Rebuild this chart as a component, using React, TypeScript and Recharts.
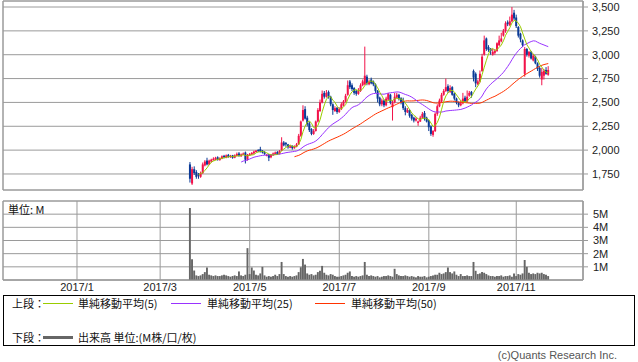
import { ComposedChart, Bar, Line, XAxis, YAxis, CartesianGrid, ReferenceArea } from "recharts";

// x axis is counted in trading days, Jan 4 2017 = 0
const firstDay = 53;
const dayDomain = [-34.7, 237.3];
const monthStarts = [0, 39, 81, 123, 165, 206];
const monthLabels = ["2017/1", "2017/3", "2017/5", "2017/7", "2017/9", "2017/11"];

const priceTicks = [1750, 2000, 2250, 2500, 2750, 3000, 3250, 3500];
const priceDomain = [1582, 3563];
const volumeTicks = [1, 2, 3, 4, 5];
const volumeDomain = [0, 6];

const opens = [
  1850, 1650, 1800, 1770, 1745, 1720, 1760, 1840, 1890, 1850,
  1880, 1895, 1900, 1925, 1895, 1910, 1940, 1920, 1950, 1925,
  1945, 1920, 1940, 1965, 1935, 1950, 1975, 1900, 1945, 1955,
  1965, 1980, 2000, 2010, 1995, 1980, 1940, 1955, 1925, 1945,
  1960, 1980, 1960, 1995, 2080, 2075, 2060, 2025, 2045, 2020,
  2035, 2060, 2150, 2310, 2430, 2340, 2280, 2220, 2170, 2200,
  2300, 2410, 2500, 2600, 2560, 2610, 2560, 2480, 2410, 2445,
  2400, 2430, 2470, 2510, 2580, 2720, 2680, 2650, 2620, 2590,
  2620, 2680, 2690, 2770, 2690, 2740, 2720, 2690, 2620, 2550,
  2480, 2520, 2470, 2530, 2580, 2450, 2500, 2550, 2580, 2545,
  2520, 2440, 2395, 2420, 2370, 2340, 2310, 2285, 2300, 2340,
  2390, 2340, 2310, 2250, 2160, 2200, 2380, 2460, 2510, 2580,
  2620, 2670, 2610, 2660, 2590, 2540, 2500, 2470, 2490, 2550,
  2510, 2570, 2610, 2830, 2800, 2690, 2720, 2830, 3000, 3170,
  3080, 3060, 3000, 3020, 3040, 3100, 3140, 3200, 3250, 3340,
  3310, 3350, 3440, 3390, 3290, 3220, 3150, 2800, 3060, 2990,
  3030, 2940, 2980, 2910, 2860, 2740, 2780, 2840, 2790,
];

const highs = [
  1875, 1825, 1830, 1790, 1760, 1775, 1870, 1895, 1920, 1900,
  1910, 1925, 1930, 1935, 1925, 1945, 1950, 1955, 1960, 1950,
  1950, 1955, 1975, 1980, 1965, 1975, 1985, 1960, 1970, 1980,
  1995, 2000, 2010, 2035, 2000, 1990, 1960, 1960, 1960, 1975,
  1985, 1990, 2000, 2135, 2095, 2085, 2065, 2055, 2050, 2050,
  2075, 2170, 2310, 2470, 2460, 2360, 2300, 2230, 2220, 2310,
  2440, 2530, 2625, 2620, 2630, 2625, 2570, 2490, 2460, 2450,
  2450, 2500, 2525, 2590, 2730, 2735, 2700, 2660, 2630, 2650,
  2700, 2740, 3085, 2790, 2740, 2760, 2730, 2700, 2630, 2560,
  2540, 2530, 2560, 2600, 2590, 2520, 2600, 2600, 2590, 2555,
  2550, 2460, 2440, 2430, 2380, 2350, 2345, 2310, 2360, 2400,
  2410, 2350, 2320, 2260, 2210, 2395, 2480, 2540, 2600, 2640,
  2750, 2690, 2680, 2670, 2600, 2550, 2510, 2520, 2600, 2570,
  2625, 2620, 2620, 2845, 2815, 2740, 2835, 3010, 3200, 3180,
  3100, 3070, 3060, 3060, 3130, 3200, 3230, 3270, 3350, 3360,
  3400, 3500, 3470, 3420, 3300, 3230, 3160, 3080, 3070, 3040,
  3040, 3010, 2990, 2920, 2880, 2860, 2850, 2870, 2880,
];

const lows = [
  1660, 1635, 1740, 1700, 1700, 1710, 1750, 1830, 1840, 1845,
  1870, 1890, 1895, 1890, 1890, 1905, 1915, 1915, 1920, 1920,
  1910, 1915, 1935, 1930, 1930, 1945, 1860, 1890, 1940, 1950,
  1960, 1975, 1980, 1975, 1965, 1950, 1935, 1885, 1915, 1940,
  1955, 1950, 1955, 1990, 2040, 2035, 2015, 2020, 2005, 2015,
  2030, 2055, 2140, 2300, 2320, 2250, 2190, 2156, 2160, 2195,
  2290, 2400, 2490, 2540, 2550, 2540, 2460, 2370, 2400, 2380,
  2390, 2420, 2460, 2500, 2570, 2640, 2620, 2580, 2570, 2580,
  2610, 2670, 2680, 2680, 2680, 2690, 2670, 2600, 2500, 2460,
  2460, 2450, 2460, 2520, 2480, 2310, 2490, 2540, 2520, 2480,
  2420, 2365, 2390, 2340, 2310, 2290, 2300, 2255, 2295, 2330,
  2310, 2290, 2200, 2150, 2140, 2190, 2360, 2450, 2500, 2570,
  2610, 2600, 2600, 2570, 2520, 2480, 2450, 2460, 2480, 2500,
  2500, 2560, 2550, 2720, 2660, 2680, 2710, 2820, 2990, 3040,
  3030, 3000, 2990, 3000, 3030, 3090, 3130, 3190, 3230, 3300,
  3300, 3340, 3360, 3280, 3180, 3130, 3080, 2770, 2980, 2970,
  2950, 2930, 2900, 2830, 2760, 2680, 2740, 2790, 2780,
];

const closes = [
  1700, 1800, 1760, 1720, 1730, 1760, 1850, 1880, 1850, 1890,
  1900, 1910, 1920, 1900, 1915, 1935, 1925, 1945, 1930, 1940,
  1920, 1945, 1960, 1940, 1955, 1965, 1900, 1950, 1960, 1970,
  1985, 1995, 1990, 1985, 1975, 1960, 1950, 1920, 1950, 1965,
  1975, 1960, 1990, 2080, 2050, 2060, 2030, 2040, 2020, 2035,
  2060, 2150, 2300, 2420, 2330, 2270, 2210, 2170, 2200, 2300,
  2420, 2500, 2590, 2560, 2600, 2560, 2480, 2420, 2440, 2400,
  2430, 2480, 2510, 2570, 2680, 2660, 2640, 2600, 2590, 2620,
  2680, 2720, 2780, 2700, 2720, 2700, 2690, 2620, 2540, 2480,
  2520, 2470, 2540, 2590, 2500, 2500, 2560, 2580, 2540, 2500,
  2440, 2400, 2420, 2360, 2330, 2310, 2330, 2300, 2340, 2380,
  2330, 2300, 2240, 2170, 2200, 2380, 2460, 2520, 2580, 2620,
  2660, 2620, 2650, 2580, 2540, 2500, 2470, 2490, 2540, 2510,
  2560, 2600, 2580, 2760, 2700, 2720, 2800, 2980, 3150, 3060,
  3050, 3040, 3030, 3040, 3120, 3150, 3170, 3250, 3330, 3320,
  3350, 3420, 3380, 3300, 3200, 3160, 3100, 3060, 3000, 3030,
  2960, 2990, 2910, 2850, 2780, 2820, 2830, 2800, 2840,
];

// volume in millions of shares
const volumes = [
  5.47, 1.57, 0.72, 0.35, 0.3, 0.35, 0.45, 0.6, 0.95, 0.4,
  0.35, 0.3, 0.35, 0.3, 0.3, 0.35, 0.4, 0.35, 0.3, 0.25,
  0.3, 0.35, 0.3, 0.65, 0.35, 0.3, 0.4, 2.42, 0.45, 0.95,
  0.72, 0.4, 0.35, 0.5, 1.0, 0.35, 0.25, 0.3, 0.25, 0.3,
  0.4, 0.3, 0.45, 1.37, 0.45, 0.3, 0.25, 0.3, 0.25, 0.3,
  0.35, 0.6, 0.97, 1.6, 1.17, 0.5, 0.4, 0.45, 0.35, 0.4,
  0.6, 0.7, 1.07, 0.55, 0.4, 0.35, 0.45, 0.4, 0.3, 0.25,
  0.25, 0.3, 0.35, 0.4, 0.55, 0.65, 0.3, 0.25, 0.3, 0.25,
  0.3, 0.35, 1.37, 0.4, 0.3, 0.35, 0.3, 0.25, 0.3, 0.2,
  0.25, 0.3, 0.3, 0.35, 0.3, 0.25, 0.85, 0.45, 0.35, 0.3,
  0.3, 0.35, 0.3, 0.25, 0.3, 0.25, 0.2, 0.3, 0.25, 0.25,
  0.3, 0.2, 0.25, 0.3, 0.35, 0.4, 0.4, 0.55, 0.45, 0.5,
  0.6, 0.95, 0.6, 0.5, 0.65, 0.4, 0.3, 0.45, 0.3, 0.3,
  0.35, 0.3, 0.3, 1.37, 0.7, 0.45, 0.5, 0.6, 0.55, 0.45,
  0.35, 0.3, 0.3, 0.25, 0.3, 0.3, 0.35, 0.25, 0.3, 0.3,
  0.35, 0.25, 0.5, 0.3, 0.45, 0.4, 0.5, 1.52, 1.0, 0.55,
  0.45, 0.5, 0.45, 0.55, 0.5, 0.55, 0.45, 0.4, 0.3,
];

const UP = "#F2124A";
const DOWN = "#0A3A96";
const GRID = "#9A9A9A";
const FONT = "'Noto Sans CJK JP', 'Noto Sans', sans-serif";
const NUM_FONT = "'Liberation Sans', Arial, sans-serif";

const movingAverage = (n: number) =>
  closes.map((_, i) => {
    if (i < n - 1) return null;
    let s = 0;
    for (let j = i - n + 1; j <= i; j++) s += closes[j];
    return s / n;
  });

const ma5 = movingAverage(5);
const ma25 = movingAverage(25);
const ma50 = movingAverage(50);

const rows = closes.map((c, i) => ({
  day: firstDay + i,
  range: [lows[i], highs[i]],
  open: opens[i],
  close: c,
  ma5: ma5[i],
  ma25: ma25[i],
  ma50: ma50[i],
  vol: volumes[i],
}));

const Candle = (props: any) => {
  const { x, y, width, height, payload } = props;
  if (x == null || y == null) return null;
  const [lo, hi] = payload.range;
  const span = hi - lo || 1;
  const py = (v: number) => y + ((hi - v) / span) * height;
  const up = payload.close >= payload.open;
  const color = up ? UP : DOWN;
  const top = py(Math.max(payload.open, payload.close));
  const bot = py(Math.min(payload.open, payload.close));
  return (
    <g>
      <rect x={x + width / 2 - 0.5} y={y} width={1} height={Math.max(1, height)} fill={color} />
      <rect x={x} y={top} width={width} height={Math.max(1, bot - top)} fill={color} />
    </g>
  );
};

const tickStyle = { fill: "#222", fontSize: 11, fontFamily: NUM_FONT };

function Legend() {
  const row: React.CSSProperties = { position: "absolute", fontSize: 11, color: "#111", whiteSpace: "nowrap", lineHeight: "14px" };
  const swatch = (left: number, top: number, color: string, h = 1) => (
    <div style={{ position: "absolute", left, top, width: 30, height: h, background: color }} />
  );
  return (
    <div style={{ position: "absolute", left: 3, top: 295, width: 630, height: 49, border: "1px solid #000" }}>
      <div style={{ ...row, left: 8, top: 0 }}>上段：</div>
      {swatch(39, 7, "#99CC00")}
      <div style={{ ...row, left: 74, top: 0 }}>単純移動平均(5)</div>
      {swatch(167, 7, "#9933FF")}
      <div style={{ ...row, left: 203, top: 0 }}>単純移動平均(25)</div>
      {swatch(311, 7, "#FF3300")}
      <div style={{ ...row, left: 347, top: 0 }}>単純移動平均(50)</div>
      <div style={{ ...row, left: 8, top: 34 }}>下段：</div>
      {swatch(39, 40, "#666666", 3)}
      <div style={{ ...row, left: 74, top: 34 }}>出来高 単位:(M株/口/枚)</div>
    </div>
  );
}

export default function App() {
  return (
    <div style={{ position: "relative", width: 638, height: 362, background: "#fff", fontFamily: FONT, overflow: "hidden" }}>
      <style>{"body{margin:0}"}</style>

      {/* price panel */}
      <div style={{ position: "absolute", left: 0, top: 0 }}>
        <ComposedChart width={638} height={191} data={rows} margin={{ top: 1, right: 0, left: 3, bottom: 1 }}>
          <CartesianGrid stroke={GRID} />
          <XAxis
            type="number"
            dataKey="day"
            domain={dayDomain}
            ticks={monthStarts}
            interval={0}
            allowDataOverflow
            tick={false}
            tickLine={false}
            axisLine={false}
            height={0}
          />
          <YAxis
            orientation="right"
            domain={priceDomain}
            ticks={priceTicks}
            interval={0}
            allowDataOverflow
            width={55}
            tick={tickStyle}
            tickSize={5}
            tickMargin={4}
            tickLine={{ stroke: GRID }}
            axisLine={{ stroke: GRID }}
            tickFormatter={(v: number) => v.toLocaleString("en-US")}
          />
          <ReferenceArea x1={dayDomain[0]} x2={dayDomain[1]} y1={priceDomain[0]} y2={priceDomain[1]} fill="none" stroke={GRID} ifOverflow="visible" />
          <Bar dataKey="range" barSize={2} shape={<Candle />} isAnimationActive={false} />
          <Line type="linear" dataKey="ma50" stroke="#FF3300" dot={false} strokeWidth={1} isAnimationActive={false} />
          <Line type="linear" dataKey="ma25" stroke="#9933FF" dot={false} strokeWidth={1} isAnimationActive={false} />
          <Line type="linear" dataKey="ma5" stroke="#99CC00" dot={false} strokeWidth={1} isAnimationActive={false} />
        </ComposedChart>
      </div>

      {/* volume panel */}
      <div style={{ position: "absolute", left: 0, top: 200 }}>
        <ComposedChart width={638} height={100} data={rows} margin={{ top: 1, right: 0, left: 3, bottom: 0 }}>
          <CartesianGrid stroke={GRID} />
          <XAxis
            type="number"
            dataKey="day"
            domain={dayDomain}
            ticks={monthStarts}
            interval={0}
            allowDataOverflow
            tickFormatter={(v: number) => monthLabels[monthStarts.indexOf(v)] ?? ""}
            tick={tickStyle}
            tickLine={false}
            tickSize={0}
            tickMargin={3}
            axisLine={{ stroke: GRID }}
            height={20}
          />
          <YAxis
            orientation="right"
            domain={volumeDomain}
            ticks={volumeTicks}
            interval={0}
            allowDataOverflow
            width={55}
            tick={tickStyle}
            tickSize={5}
            tickMargin={5}
            tickLine={{ stroke: GRID }}
            axisLine={{ stroke: GRID }}
            tickFormatter={(v: number) => `${v}M`}
          />
          <ReferenceArea x1={dayDomain[0]} x2={dayDomain[1]} y1={volumeDomain[0]} y2={volumeDomain[1]} fill="none" stroke={GRID} ifOverflow="visible" />
          <Bar dataKey="vol" barSize={2.2} fill="#666666" isAnimationActive={false} />
        </ComposedChart>
      </div>

      <div style={{ position: "absolute", left: 8, top: 202, fontSize: 11, color: "#111", lineHeight: "14px" }}>単位: M</div>

      <Legend />

      <div style={{ position: "absolute", right: 21, top: 349, fontSize: 11, color: "#555", lineHeight: "13px", fontFamily: NUM_FONT }}>(c)Quants Research Inc.</div>
    </div>
  );
}
